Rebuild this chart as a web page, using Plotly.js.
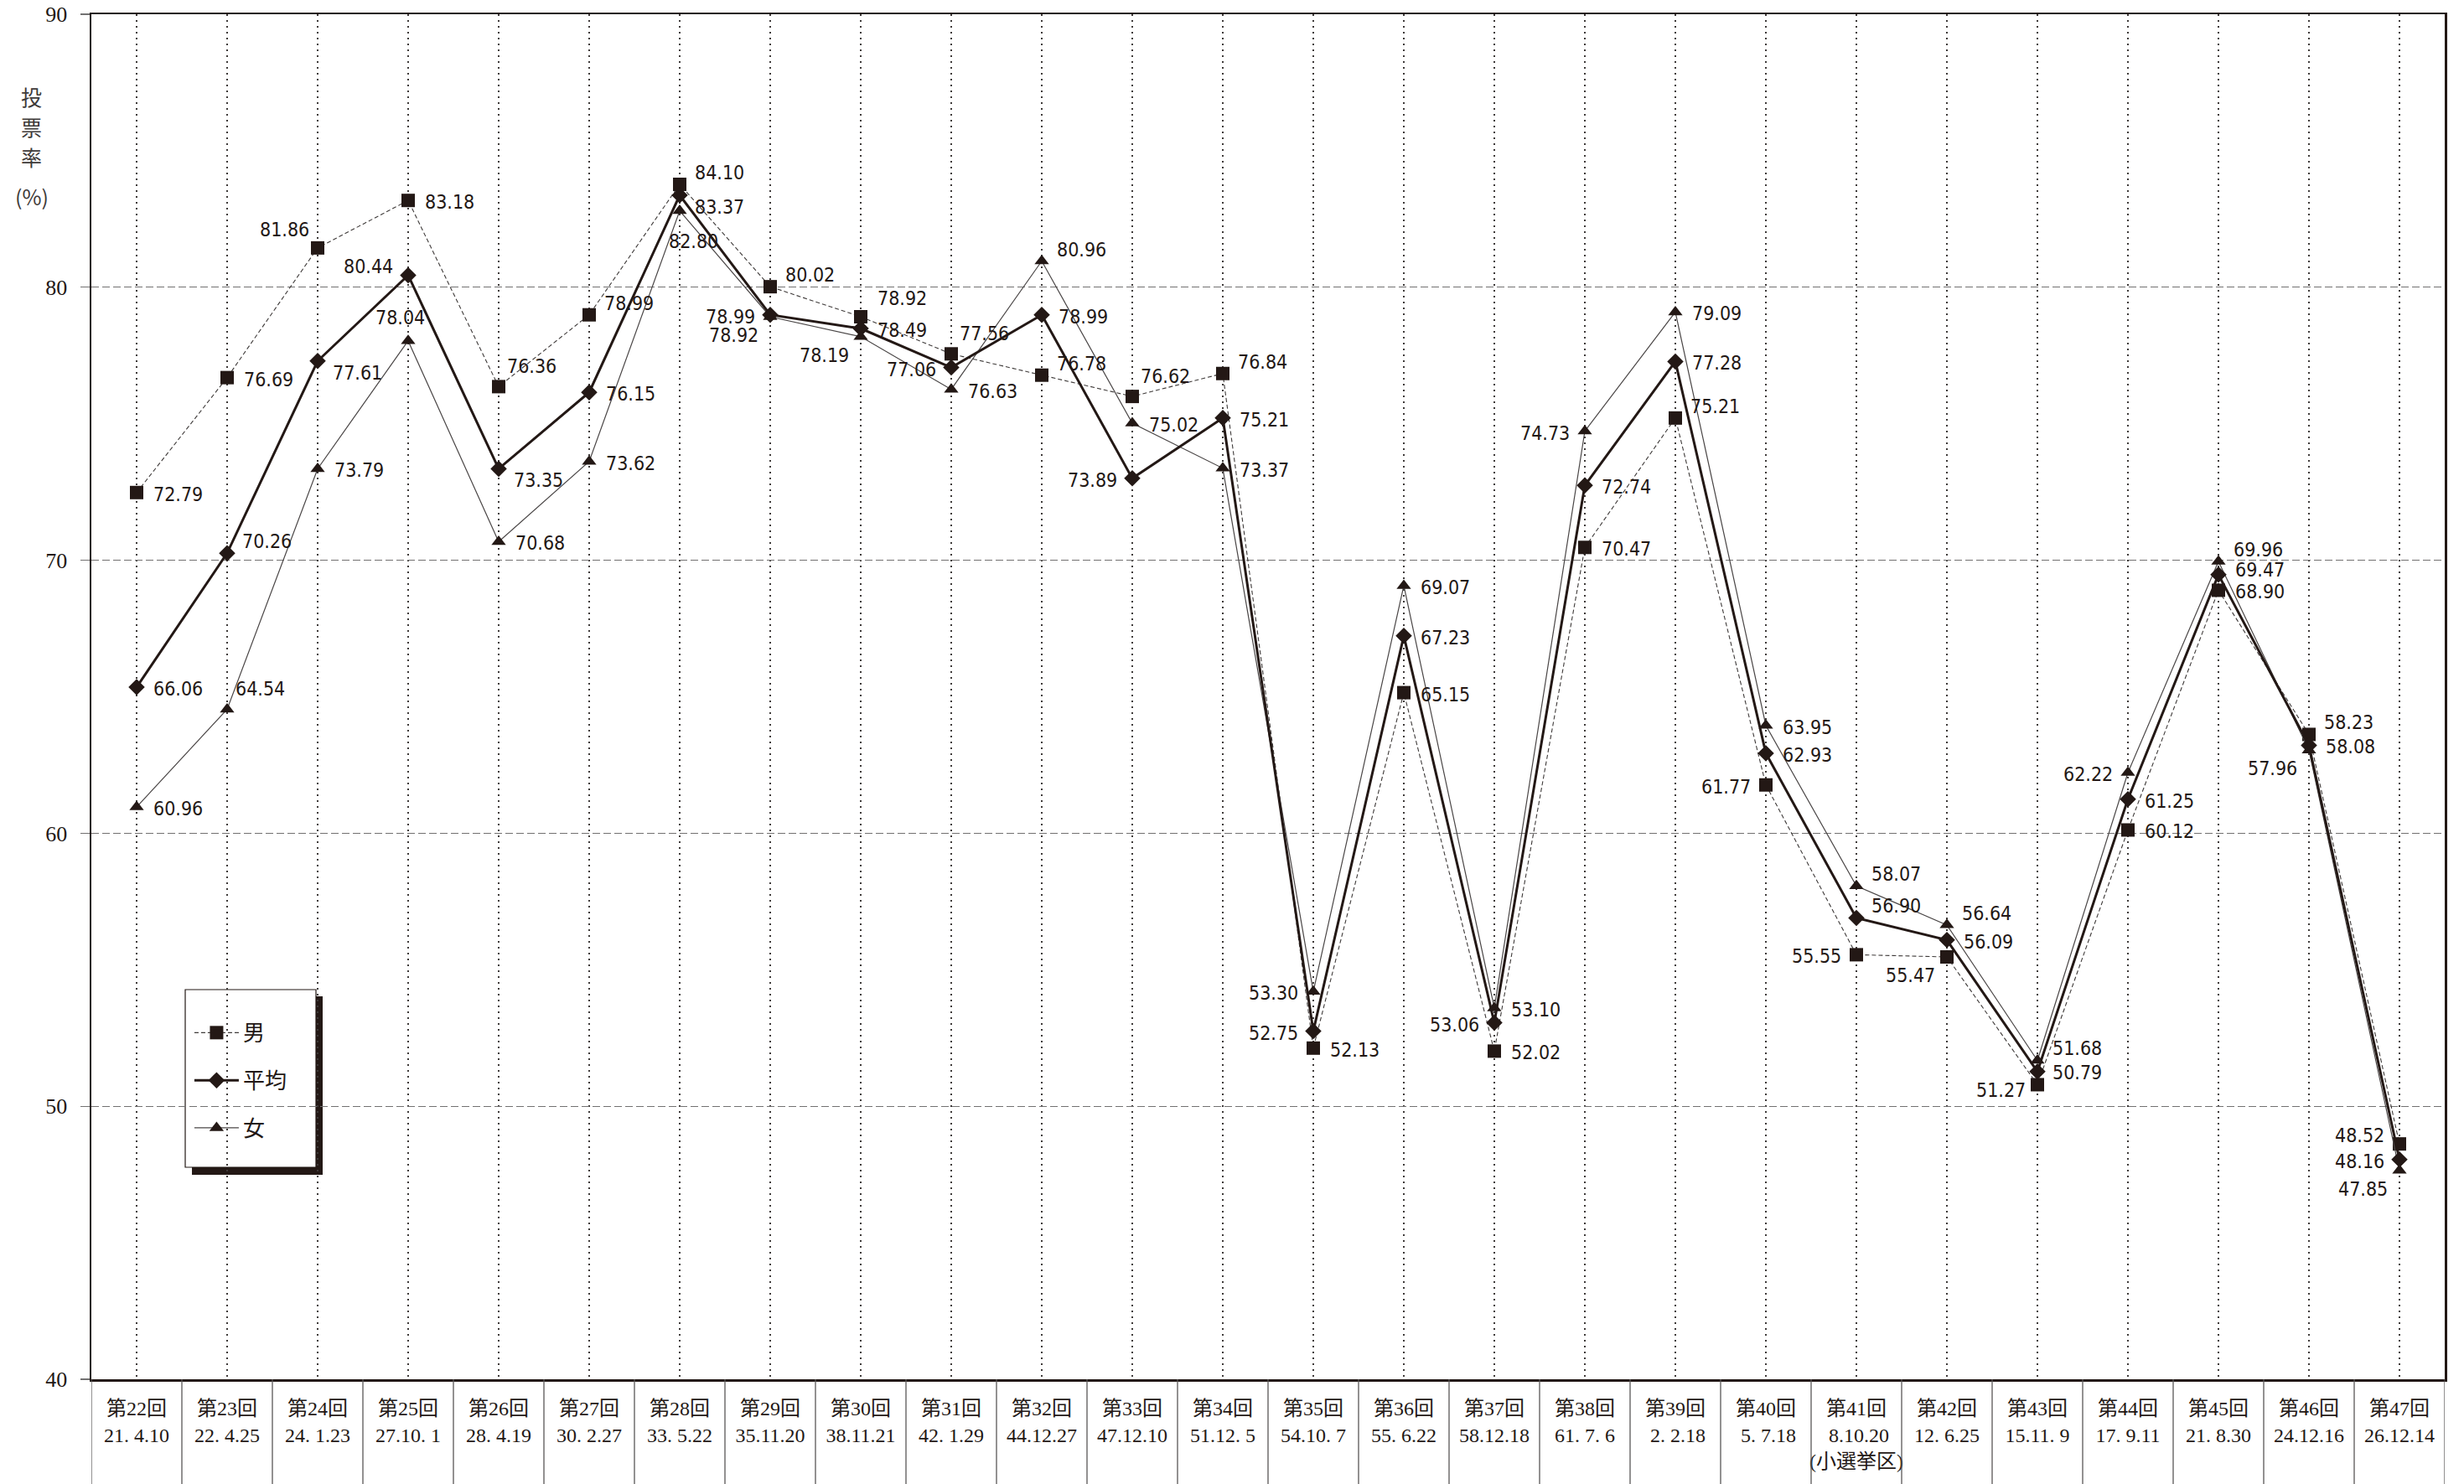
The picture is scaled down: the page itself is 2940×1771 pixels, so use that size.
<!DOCTYPE html>
<html>
<head>
<meta charset="utf-8">
<script src="https://cdn.plot.ly/plotly-3.0.1.min.js"></script>
<style>
html,body{margin:0;padding:0;background:#ffffff;}
#chart{width:2940px;height:1771px;}
</style>
</head>
<body>
<div id="chart"></div>
<script>
// ---- categories (election round / date) ----
const rounds = ['第22回','第23回','第24回','第25回','第26回','第27回','第28回','第29回','第30回','第31回','第32回','第33回','第34回','第35回','第36回','第37回','第38回','第39回','第40回','第41回','第42回','第43回','第44回','第45回','第46回','第47回'];
const dates = ['21. 4.10','22. 4.25','24. 1.23','27.10. 1','28. 4.19','30. 2.27','33. 5.22','35.11.20','38.11.21','42. 1.29','44.12.27','47.12.10','51.12. 5','54.10. 7','55. 6.22','58.12.18','61. 7. 6',' 2. 2.18',' 5. 7.18',' 8.10.20','12. 6.25','15.11. 9','17. 9.11','21. 8.30','24.12.16','26.12.14'];
const notes = ['','','','','','','','','','','','','','','','','','','','(小選挙区)','','','','','',''];

// ---- series values (where the marks sit in the picture) ----
const male   = [72.48,76.69,81.44,83.18,76.36,78.99,83.77,80.02,78.92,77.56,76.78,76.00,76.84,52.13,65.15,52.02,70.47,75.21,61.77,55.55,55.47,50.79,60.12,68.90,63.62,48.62];
const avg    = [65.35,70.26,77.30,80.44,73.35,76.15,83.37,78.99,78.49,77.06,78.99,73.00,75.21,52.75,67.23,53.06,72.74,77.28,62.93,56.90,56.09,51.27,61.25,69.47,63.22,48.05];
const female = [60.96,64.54,73.35,78.04,70.68,73.62,82.80,78.92,78.19,76.26,80.96,75.02,73.37,54.20,69.07,53.60,74.73,79.09,63.95,58.07,56.64,51.68,62.22,69.96,63.04,47.65];

// ---- printed value labels ----
const maleLabels   = ['72.79','76.69','81.86','83.18','76.36','78.99','84.10','80.02','78.92','77.56','76.78','76.62','76.84','52.13','65.15','52.02','70.47','75.21','61.77','55.55','55.47','50.79','60.12','68.90','58.23','48.52'];
const avgLabels    = ['66.06','70.26','77.61','80.44','73.35','76.15','83.37','78.99','78.49','77.06','78.99','73.89','75.21','52.75','67.23','53.06','72.74','77.28','62.93','56.90','56.09','51.27','61.25','69.47','58.08','48.16'];
const femaleLabels = ['60.96','64.54','73.79','78.04','70.68','73.62','82.80','78.92','78.19','76.63','80.96','75.02','73.37','53.30','69.07','53.10','74.73','79.09','63.95','58.07','56.64','51.68','62.22','69.96','57.96','47.85'];

// ---- label placement (style) ----
const malePlace   = ['R','R','TL','R','TR','RU','RU','RU','RT','TR','RU','TR','RU','R','R','R','R','RU','L','L','LD','RU','R','R','RU','LU'];
const avgPlace    = ['R','RU','RD','LU','RD','R','RD','L','R','L','R','L','R','L','R','L','R','R','R','RU','R','LD','R','RS','R','L'];
const femalePlace = ['R','TR','R','T','R','R','B','LD','LD','R','RU','R','R','L','R','R','L','R','R','RU','RU','RU','L','RU','LD','LD'];

const placeMap = {
  R:  {xanchor:'left',   xs:18,  ys:-2},
  RS: {xanchor:'left',   xs:18,  ys:6},
  RU: {xanchor:'left',   xs:16,  ys:14},
  RT: {xanchor:'left',   xs:18,  ys:22},
  TR: {xanchor:'left',   xs:8,   ys:24},
  RD: {xanchor:'left',   xs:16,  ys:-14},
  L:  {xanchor:'right',  xs:-16, ys:-2},
  LU: {xanchor:'right',  xs:-16, ys:10},
  LD: {xanchor:'right',  xs:-12, ys:-22},
  TL: {xanchor:'right',  xs:-8,  ys:22},
  T:  {xanchor:'center', xs:-10, ys:28},
  B:  {xanchor:'center', xs:16,  ys:-36}
};

const INK = '#231815';
const cats = rounds.map((r,i) => r + '<br>' + dates[i] + (notes[i] ? '<br>' + notes[i] : ''));
const idx = rounds.map((_,i) => i);

const traces = [
  {name:'男', x:idx, y:male, type:'scatter', mode:'lines+markers', legendgroup:'m', legendrank:1,
   line:{color:'#3e3a39', width:1.1, dash:'5px,3px'},
   marker:{symbol:'square', size:16, color:INK}},
  {name:'女', x:idx, y:female, type:'scatter', mode:'lines+markers', legendgroup:'f', legendrank:3,
   line:{color:'#4a4646', width:1.2},
   marker:{symbol:'triangle-up', size:15, color:INK}},
  {name:'平均', x:idx, y:avg, type:'scatter', mode:'lines+markers', legendgroup:'a', legendrank:2,
   line:{color:INK, width:3},
   marker:{symbol:'diamond', size:15, color:INK}}
];

const labelFont = {family:'DejaVu Sans Condensed, Liberation Sans Narrow, DejaVu Sans, sans-serif', size:23, color:INK};
const annotations = [];
function addLabels(vals, labels, places){
  vals.forEach((v,i) => {
    const p = placeMap[places[i]];
    annotations.push({x:i, y:v, xref:'x', yref:'y', text:labels[i], showarrow:false,
      xanchor:p.xanchor, yanchor:'middle', xshift:p.xs, yshift:p.ys, font:labelFont});
  });
}
addLabels(male, maleLabels, malePlace);
addLabels(avg, avgLabels, avgPlace);
addLabels(female, femaleLabels, femalePlace);

// y-axis title, stacked vertically
const ytitleFont = {family:'Noto Sans CJK JP, sans-serif', size:25, color:'#3e3a39'};
[['投',0.9398],['票',0.9177],['率',0.8956],['(%)',0.8668]].forEach(t => {
  annotations.push({x:-0.0253, y:t[1], xref:'paper', yref:'paper', text:t[0], showarrow:false,
    xanchor:'center', yanchor:'middle', font:ytitleFont});
});

// category separators below the plot
const shapes = [];
for (let i = 0; i <= rounds.length; i++) {
  shapes.push({type:'line', xref:'x', yref:'paper', x0:i-0.5, x1:i-0.5, y0:0, y1:-0.0767,
    line:{color:'#595757', width:1.3}, layer:'above'});
}
// legend shadow + box
shapes.push({type:'rect', xref:'paper', yref:'paper', x0:0.04274, x1:0.09829, y0:0.14979, y1:0.28054,
  fillcolor:INK, line:{width:0}, layer:'below'});
shapes.push({type:'rect', xref:'paper', yref:'paper', x0:0.03989, x1:0.09544, y0:0.15531, y1:0.28545,
  fillcolor:'#ffffff', line:{color:INK, width:1.2}, layer:'below'});

const layout = {
  width:2940, height:1771,
  margin:{l:109, r:23, t:17, b:125, pad:0},
  paper_bgcolor:'#ffffff', plot_bgcolor:'rgba(0,0,0,0)',
  showlegend:true,
  legend:{x:0.0420, y:0.2683, xanchor:'left', yanchor:'top', bgcolor:'rgba(0,0,0,0)', borderwidth:0,
    font:{family:'Noto Sans CJK JP, sans-serif', size:26, color:INK}, tracegroupgap:20, itemwidth:53,
    traceorder:'grouped', itemsizing:'trace'},
  xaxis:{type:'linear', range:[-0.5,25.5], tickmode:'array', tickvals:idx, ticktext:cats,
    showgrid:true, gridcolor:'#3e3a39', gridwidth:1.5, griddash:'2px,5px',
    showline:true, linecolor:INK, linewidth:2.5, mirror:true, zeroline:false,
    ticks:'', tickangle:0, ticklabelstandoff:12,
    tickfont:{family:'Liberation Serif, Noto Sans CJK JP, serif', size:24, color:INK}},
  yaxis:{range:[40,90], tick0:40, dtick:10, showgrid:true, gridcolor:'#727171', gridwidth:1.2, griddash:'9px,4px',
    showline:true, linecolor:INK, linewidth:2.5, mirror:true, zeroline:false,
    ticks:'outside', ticklen:11, tickcolor:'#727171', tickwidth:1.2, ticklabelstandoff:10,
    tickfont:{family:'Liberation Serif, serif', size:26, color:INK}},
  annotations:annotations,
  shapes:shapes
};

Plotly.newPlot('chart', traces, layout, {staticPlot:true, displayModeBar:false});
</script>
</body>
</html>
